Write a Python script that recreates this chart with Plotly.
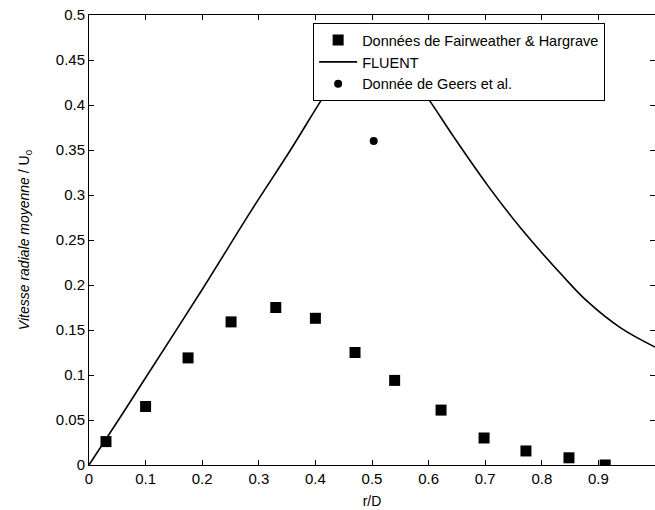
import plotly.graph_objects as go

# Fairweather & Hargrave data
fh_x = [0.030, 0.100, 0.175, 0.251, 0.330, 0.400, 0.470, 0.540, 0.622, 0.698, 0.772, 0.848, 0.912]
fh_y = [0.026, 0.065, 0.119, 0.159, 0.175, 0.163, 0.125, 0.094, 0.061, 0.030, 0.0156, 0.008, 0.0]

# FLUENT curve
fl_x = [0.0, 0.05, 0.10, 0.20, 0.285, 0.356, 0.416, 0.47, 0.50, 0.53, 0.595, 0.645, 0.704, 0.763, 0.840, 0.88, 0.94, 1.0]
fl_y = [0.0, 0.048, 0.097, 0.195, 0.281, 0.350, 0.411, 0.462, 0.476, 0.465, 0.411, 0.364, 0.311, 0.263, 0.208, 0.182, 0.152, 0.131]

# Geers et al.
ge_x = [0.503]
ge_y = [0.360]

x_ticks = [0, 0.1, 0.2, 0.3, 0.4, 0.5, 0.6, 0.7, 0.8, 0.9, 1.0]
x_labels = ["0", "0.1", "0.2", "0.3", "0.4", "0.5", "0.6", "0.7", "0.8", "0.9", "1"]
y_ticks = [0, 0.05, 0.1, 0.15, 0.2, 0.25, 0.3, 0.35, 0.4, 0.45, 0.5]
y_labels = ["0", "0.05", "0.1", "0.15", "0.2", "0.25", "0.3", "0.35", "0.4", "0.45", "0.5"]

FONT = "Liberation Sans, Arial, sans-serif"

fig = go.Figure()
fig.add_trace(go.Scatter(x=fh_x, y=fh_y, mode="markers", name="Données de Fairweather &amp; Hargrave",
                         marker=dict(symbol="square", size=11, color="black")))
fig.add_trace(go.Scatter(x=fl_x, y=fl_y, mode="lines", name="FLUENT",
                         line=dict(color="black", width=1.6, shape="spline", smoothing=1.0)))
fig.add_trace(go.Scatter(x=ge_x, y=ge_y, mode="markers", name="Donnée de Geers et al.",
                         marker=dict(symbol="circle", size=8, color="black")))

axis_common = dict(showgrid=False, zeroline=False, showline=True, linecolor="black", linewidth=1,
                   mirror="ticks", ticks="inside", ticklen=5, tickcolor="black",
                   tickfont=dict(family=FONT, size=15, color="black"))

fig.update_layout(
    width=655, height=510,
    margin=dict(l=89, r=0, t=15, b=45),
    paper_bgcolor="white", plot_bgcolor="white",
    font=dict(family=FONT, color="black"),
    showlegend=True,
    legend=dict(x=0.396, y=0.982, xanchor="left", yanchor="top",
                bgcolor="white", bordercolor="black", borderwidth=1,
                font=dict(family=FONT, size=14.5, color="black"),
                tracegroupgap=0, itemwidth=38),
    xaxis=dict(range=[0, 1], tickvals=x_ticks, ticktext=x_labels,
               title=dict(text="r/D", font=dict(family=FONT, size=14), standoff=10), **axis_common),
    yaxis=dict(range=[0, 0.5], tickvals=y_ticks, ticktext=y_labels,
               title=dict(text="<i>Vitesse radiale moyenne</i> / U<sub>0</sub>",
                          font=dict(family=FONT, size=14), standoff=22), **axis_common),
)

fig.write_html("out.html")
